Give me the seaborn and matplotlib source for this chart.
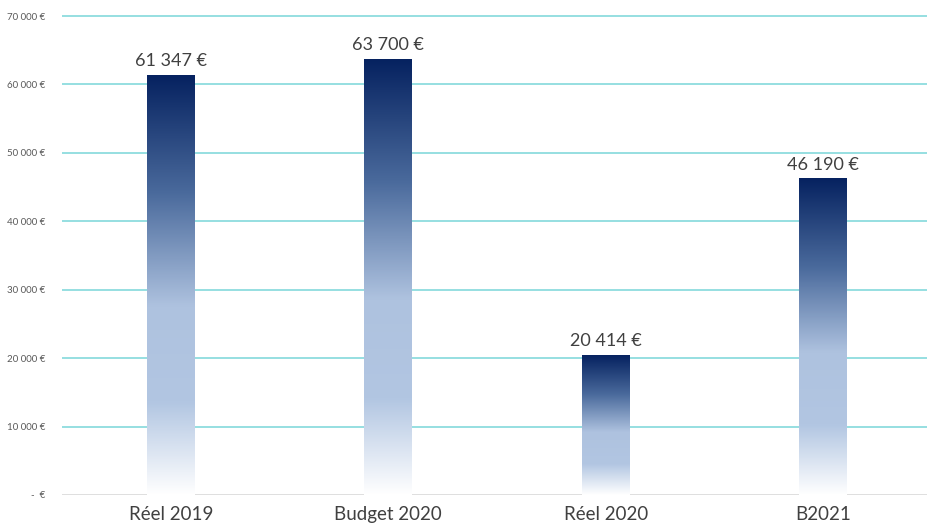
import matplotlib
matplotlib.use("Agg")
import matplotlib.pyplot as plt
import seaborn as sns
import numpy as np
import pandas as pd
from matplotlib.colors import LinearSegmentedColormap

categories = ["Réel 2019", "Budget 2020", "Réel 2020", "B2021"]
values = [61347, 63700, 20414, 46190]
value_labels = ["61 347 €", "63 700 €", "20 414 €", "46 190 €"]
yticks = [0, 10000, 20000, 30000, 40000, 50000, 60000, 70000]
ytick_labels = ["-  €", "10 000 €", "20 000 €", "30 000 €", "40 000 €", "50 000 €", "60 000 €", "70 000 €"]

sns.set_theme(style="white")
plt.rcParams['font.family'] = ['Lato', 'DejaVu Sans']

df = pd.DataFrame({"cat": categories, "val": values})

fig = plt.figure(figsize=(9.27, 5.25), dpi=100)
W, H = 927, 525
ax = fig.add_axes([62 / W, 30 / H, 870 / W, (H - 30) / H])

sns.barplot(data=df, x="cat", y="val", ax=ax, width=0.22,
            color="white", edgecolor="none", linewidth=0, zorder=3)

ymax = 70000 + 16 * 70000 / 479

# gradient
cmap = LinearSegmentedColormap.from_list(
    "grad",
    [(0.0, "#ffffff"), (0.22, "#b2c6e2"), (0.45, "#aec2df"),
     (0.72, "#4a6a9c"), (1.0, "#062260")])
grad = np.linspace(0, 1, 256).reshape(-1, 1)
for p, lab in zip(ax.patches, value_labels):
    x0, y0 = p.get_x(), p.get_y()
    w, h = p.get_width(), p.get_height()
    ax.imshow(grad, extent=[x0, x0 + w, y0, y0 + h], origin="lower",
              cmap=cmap, aspect="auto", zorder=4)
    ax.text(x0 + w / 2, y0 + h + 900, lab, ha="center", va="bottom",
            fontsize=13, color="#404040", zorder=5)
ax.set_xlim(-0.5, 3.5)
ax.set_ylim(0, ymax)

for t in yticks[1:]:
    ax.axhline(t, color="#79d6d8", linewidth=1.1, zorder=1)
ax.axhline(0, color="#d9d9d9", linewidth=1.2, zorder=1)

ax.set_yticks(yticks)
ax.set_yticklabels(ytick_labels, fontsize=7, color="#595959")
ax.tick_params(axis="y", length=0, pad=12)
ax.tick_params(axis="x", length=0, pad=8, labelsize=13.5, labelcolor="#404040")
ax.set_xlabel("")
ax.set_ylabel("")
for s in ax.spines.values():
    s.set_visible(False)
ax.grid(False)

fig.savefig("out.png", dpi=100)
